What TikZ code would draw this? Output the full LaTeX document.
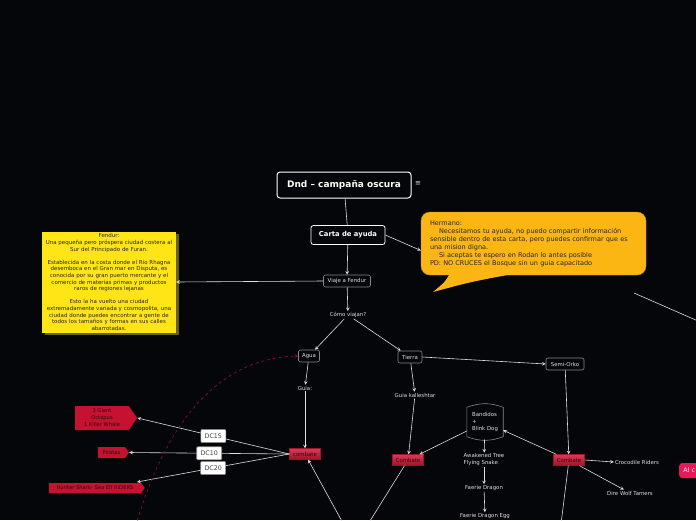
\documentclass[tikz,border=0pt]{standalone}
\usepackage{fontspec}
\setmainfont{DejaVu Sans}
\usepackage{tikz}
\usetikzlibrary{shapes,arrows,positioning,fit,calc,shadows}
\usepackage{xcolor}

\definecolor{bgblack}{RGB}{5,6,9}
\definecolor{lbl}{RGB}{222,222,222}
\definecolor{framegray}{RGB}{135,135,135}
\definecolor{noteyellow}{RGB}{255,228,22}
\definecolor{noteshadow}{RGB}{105,95,10}
\definecolor{calloutorange}{RGB}{251,182,20}
\definecolor{fightred}{RGB}{196,18,48}
\definecolor{fightlight}{RGB}{214,60,84}
\definecolor{fightdark}{RGB}{160,18,42}
\definecolor{darktext}{RGB}{45,8,14}
\definecolor{pinknode}{RGB}{232,24,90}
\definecolor{dashred}{RGB}{150,15,58}

\begin{document}
\begin{tikzpicture}[
    x=1pt, y=-1pt,
    >=stealth,
    topic/.style={rectangle, draw=white, line width=1pt, rounded corners=3pt, fill=bgblack, text=white, font=\bfseries\fontsize{9}{10}\selectfont, minimum width=134pt, minimum height=26pt},
    subtopic/.style={rectangle, draw=white, line width=0.8pt, rounded corners=2.5pt, fill=bgblack, text=white, font=\bfseries\fontsize{6.8}{8}\selectfont, minimum width=74pt, minimum height=19pt},
    place/.style={rectangle, draw=framegray, line width=0.6pt, rounded corners=2pt, fill=bgblack, text=lbl, font=\fontsize{5.4}{6.5}\selectfont, minimum height=12pt, inner xsep=3pt, inner ysep=1pt},
    plain/.style={text=lbl, font=\fontsize{5.4}{7}\selectfont, inner sep=1pt},
    fight/.style={rectangle, draw=fightdark, top color=fightlight, bottom color=fightdark, text=darktext, font=\fontsize{5.4}{6.5}\selectfont, minimum width=31pt, minimum height=11pt, inner sep=1pt},
    foe/.style={signal, signal to=east, signal pointer angle=110, fill=fightred, text=darktext, font=\fontsize{5.2}{7}\selectfont, align=center, inner sep=1.5pt},
    dc/.style={rectangle, draw=framegray, fill=white, text=black!75, rounded corners=1pt, font=\fontsize{6.3}{7}\selectfont, minimum width=25pt, minimum height=13pt, inner sep=1pt},
    link/.style={draw=lbl, line width=0.6pt},
    arr/.style={link, ->}
]
    \fill[bgblack] (0,0) rectangle (696,520);
    \useasboundingbox (0,0) rectangle (696,520);
    \clip (0,0) rectangle (696,520);

    % central topic
    \node[topic] (title) at (344,185) {Dnd – campaña oscura};
    \node[text=lbl, font=\fontsize{7}{8}\selectfont] (menu) at (418,184) {≡};
    \node[subtopic] (carta) at (348,235) {Carta de ayuda};

    % letter
    \node[rectangle, rounded corners=9pt, fill=calloutorange, draw=calloutorange!80!black, line width=0.4pt,
          minimum width=225pt, minimum height=63pt, text width=207pt, align=left, text=black!85,
          font=\fontsize{6.5}{8}\selectfont] (letter) at (533.5,243.5)
        {Hermano:\\
         \hspace*{9pt}Necesitamos tu ayuda, no puedo compartir información\\
         sensible dentro de esta carta, pero puedes confirmar que es\\
         una mision digna.\\
         \hspace*{9pt}Si aceptas te espero en Rodan lo antes posible\\
         PD: NO CRUCES el Bosque sin un guia capacitado};
    \coordinate (tip) at (433,292);
    \fill[calloutorange] ([xshift=-84pt,yshift=1pt]letter.south) .. controls (445,282) .. (tip)
        .. controls (470,282) .. ([xshift=-22pt,yshift=1pt]letter.south) -- cycle;

    % journey
    \node[place, minimum width=47pt] (viaje) at (347,281) {Viaje a Fendur};
    \node[rectangle, fill=noteyellow, text=black!85, minimum width=134pt, minimum height=101pt,
          text width=132pt, align=center, inner sep=1pt, font=\fontsize{5.5}{6.6}\selectfont,
          drop shadow={shadow xshift=2.5pt, shadow yshift=-2.5pt, fill=noteshadow, opacity=1}] (fendur) at (109,282)
        {Fendur:\\
         Una pequeña pero próspera ciudad costera al\\
         Sur del Principado de Furan.\\[6.6pt]
         Establecida en la costa donde el Rio Rhagna\\
         desemboca en el Gran mar en Disputa, es\\
         conocida por su gran puerto mercante y el\\
         comercio de materias primas y productos\\
         raros de regiones lejanas\\[6.6pt]
         Esto la ha vuelto una ciudad\\
         extremadamente variada y cosmopolita, una\\
         ciudad donde puedes encontrar a gente de\\
         todos los tamaños y formas en sus calles\\
         abarrotadas.};
    \node[plain] (como) at (348,315) {Cómo viajan?};

    % by water
    \node[place, minimum width=21pt] (agua) at (309,356) {Agua};
    \node[plain] (guia) at (305,388) {Guia:};
    \node[fight] (combAgua) at (305,454) {combate};
    \node[foe, minimum width=62pt, minimum height=24pt] (giant) at (102,418) {3 Giant\\Octopus\\1 Killer Whale};
    \node[foe, minimum width=31pt, minimum height=11pt] (piratas) at (111.5,452.5) {Piratas};
    \node[foe, minimum width=96pt, minimum height=10pt] (hunter) at (95,488) {Hunter Shark- Sea Elf RIDERS};

    % by land
    \node[place, minimum width=24pt] (tierra) at (410,357) {Tierra};
    \node[plain] (kalle) at (415,395) {Guia kalleshtar};
    \node[fight] (combTierra) at (408,460) {Combate};
    \node[minimum width=36pt, minimum height=35pt, inner sep=0pt] (bandidos) at (485,422) {};
    \draw[framegray, line width=0.6pt, fill=bgblack] ([yshift=-3pt]bandidos.north west) to[bend left=20] ([yshift=-3pt]bandidos.north east)
        -- ([yshift=3pt]bandidos.south east) to[bend left=20] ([yshift=3pt]bandidos.south west) -- cycle;
    \node[text=lbl, align=left, font=\fontsize{5.4}{7}\selectfont] (bandidosText) at (bandidos) {Bandidos\\+\\Blink Dog};
    \node[plain, align=left] (awake) at (484,460) {Awakened Tree\\Flying Snake};
    \node[plain] (faerie) at (484,488) {Faerie Dragon};
    \node[plain] (egg) at (485,516) {Faerie Dragon Egg};
    \node[place, minimum width=38pt] (orko) at (565,364) {Semi-Orko};
    \node[fight] (combOrko) at (569,460) {Combate};
    \node[plain] (croco) at (637,462) {Crocodile Riders};
    \node[plain] (wolf) at (630,493) {Dire Wolf Tamers};
    \node[rectangle, rounded corners=3pt, fill=pinknode, text=white, anchor=west, minimum width=40pt,
          minimum height=15pt, align=left, font=\fontsize{6.3}{7}\selectfont] (alc) at (679,470.5) {Al c\hspace*{20pt}};

    % ends of lines outside the view
    \coordinate (below) at (355,545);
    \coordinate (belowOrko) at (559,540);
    \coordinate (seaStart) at (134,532);
    \coordinate (farRight) at (730,335);
    \coordinate (farRightEnd) at (634,293);

    % connectors
    \draw[link] (title) -- (carta);
    \draw[arr] (carta.east) -- ([yshift=-7pt]letter.west);
    \draw[arr] (carta) -- (viaje);
    \draw[arr] (viaje.west) -- (fendur.east);
    \draw[arr] (viaje) -- (como);
    \draw[arr] (como) -- (agua);
    \draw[arr] (como) -- (tierra);
    \draw[arr] (agua) -- (guia);
    \draw[arr] (guia) -- (combAgua);
    \draw[arr] (combAgua.west) -- node[dc] {DC15} (giant.east);
    \draw[arr] (combAgua.west) -- node[dc] {DC10} (piratas.east);
    \draw[arr] (combAgua.west) -- node[dc] {DC20} ([xshift=-8pt,yshift=6pt]hunter.east);
    \draw[arr] (below) -- (combAgua);
    \draw[dashred, dashed, line width=0.6pt, ->] (seaStart) .. controls (165,420) and (220,358) .. (agua.west);
    \draw[arr] (tierra) -- (kalle);
    \draw[arr] (kalle) -- (combTierra);
    \draw[link] (combTierra) -- (below);
    \draw[arr] (bandidos) -- (combTierra);
    \draw[arr] (bandidos) -- (awake);
    \draw[arr] (awake) -- (faerie);
    \draw[arr] (faerie) -- (egg);
    \draw[arr] (tierra.east) -- (orko.west);
    \draw[arr] (orko) -- (combOrko);
    \draw[arr] (combOrko) -- (bandidos);
    \draw[arr] (combOrko.east) -- (croco.west);
    \draw[arr] (combOrko) -- (wolf);
    \draw[link] (combOrko) -- (belowOrko);
    \draw[link] (farRightEnd) -- (farRight);
\end{tikzpicture}
\end{document}
